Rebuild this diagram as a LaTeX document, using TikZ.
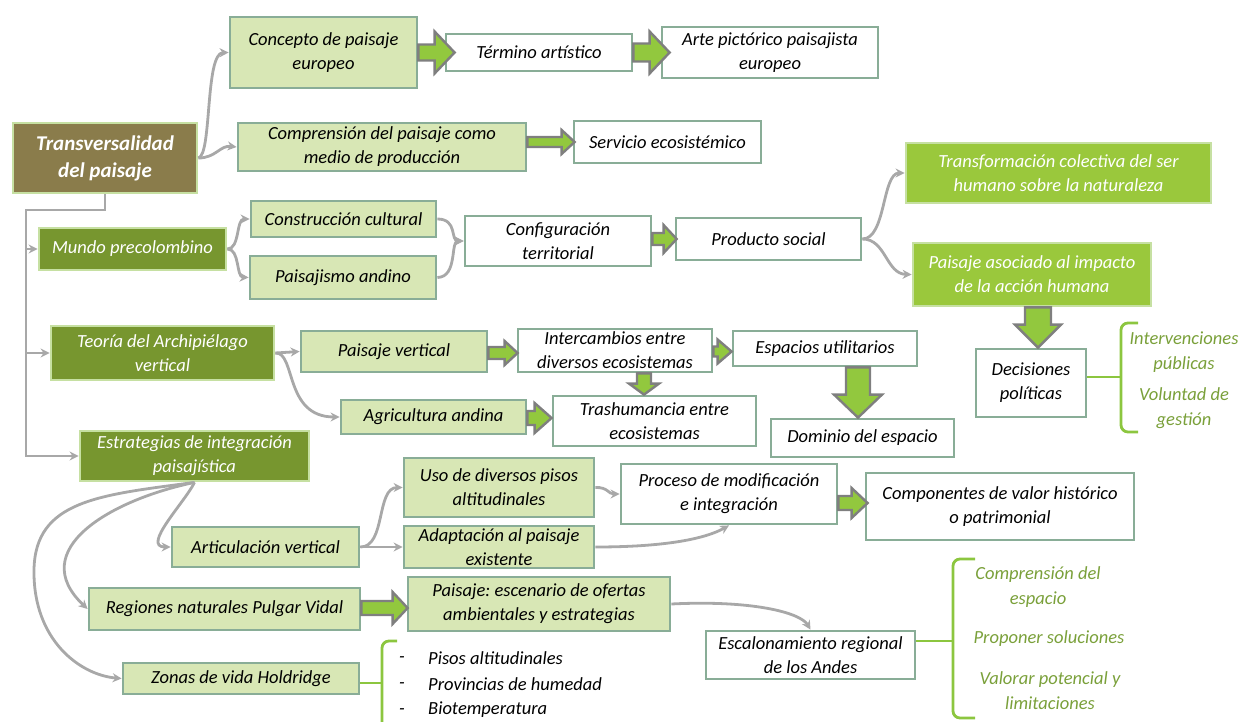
\documentclass[tikz,border=0pt]{standalone}
\usepackage{fontspec}
\setmainfont{Carlito}
\usetikzlibrary{calc,arrows.meta}
\frenchspacing

\definecolor{lgfill}{HTML}{D8E7B5}
\definecolor{boxline}{HTML}{89AD97}
\definecolor{dkgreen}{HTML}{77962F}
\definecolor{olive}{HTML}{8A7C4B}
\definecolor{paleline}{HTML}{C6E0A2}
\definecolor{brightgreen}{HTML}{9AC83C}
\definecolor{conngray}{HTML}{A8A8A8}
\definecolor{arrowgreen}{HTML}{92C83E}
\definecolor{arrowline}{HTML}{7F7F7F}
\definecolor{bracegreen}{HTML}{8CC63F}
\definecolor{notegreen}{HTML}{7AA03A}

\tikzset{
  boxbase/.style={draw, line width=2.8pt, inner sep=0pt, align=center,
    font=\fontsize{18.5}{24}\selectfont\itshape, text=black},
  sz/.style 2 args={minimum width=#1pt, minimum height=#2pt},
  pale/.style={boxbase, fill=lgfill, draw=boxline},
  plain/.style={boxbase, fill=white, draw=boxline},
  dark/.style={boxbase, fill=dkgreen, draw=paleline, text=white},
  bright/.style={boxbase, fill=brightgreen, draw=paleline, text=white},
  root/.style={boxbase, fill=olive, draw=paleline, text=white,
    font=\fontsize{21}{27}\selectfont\bfseries\itshape},
  conn/.style={draw=conngray, line width=2.8pt, -{Stealth[length=9pt,width=9pt]}},
  blockarrow/.style={fill=arrowgreen, draw=arrowline, line width=2.4pt, line join=miter},
  brace/.style={draw=bracegreen, line width=2.8pt, rounded corners=7pt},
  note/.style={font=\fontsize{18.5}{25}\selectfont\itshape, text=notegreen, align=center, inner sep=0pt},
  listitem/.style={font=\fontsize{18.5}{25}\selectfont\itshape, text=black, anchor=west, inner sep=0pt},
}

% wide arrow pointing right: start, end, shaft half-height, head half-height, head length
\newcommand\blockright[5]{%
  \path[blockarrow] let \p1=(#1), \p2=(#2) in
    (\x1,{\y1+#3}) -- ({\x2-#5},{\y1+#3}) -- ({\x2-#5},{\y1+#4}) -- (\x2,\y1)
    -- ({\x2-#5},{\y1-#4}) -- ({\x2-#5},{\y1-#3}) -- (\x1,{\y1-#3}) -- cycle;}
% wide arrow pointing down: start, end, shaft half-width, head half-width, head length
\newcommand\blockdown[5]{%
  \path[blockarrow] let \p1=(#1), \p2=(#2) in
    ({\x1+#3},\y1) -- ({\x1+#3},{\y2+#5}) -- ({\x1+#4},{\y2+#5}) -- (\x1,\y2)
    -- ({\x1-#4},{\y2+#5}) -- ({\x1-#3},{\y2+#5}) -- ({\x1-#3},\y1) -- cycle;}

\begin{document}
\begin{tikzpicture}[x=1pt, y=-1pt]
\useasboundingbox (0,0) rectangle (1241,722);

% ---- boxes ----
\node[root, sz={184}{70}] (trans) at (105,158) {Transversalidad\\del paisaje};
\node[pale, sz={187}{71}] (concepto) at (323.5,52.5) {Concepto de paisaje\\europeo};
\node[plain, sz={186}{37}] (termino) at (539,52.5) {Término artístico};
\node[plain, sz={216}{51}] (arte) at (770,52.5) {Arte pictórico paisajista\\europeo};
\node[pale, sz={288}{48}] (compr) at (382,147) {Comprensión del paisaje como\\medio de producción};
\node[plain, sz={187}{42}] (servicio) at (667.5,142) {Servicio ecosistémico};

\node[dark, sz={187}{42}] (mundo) at (132.5,249) {Mundo precolombino};
\node[pale, sz={185}{36}] (constr) at (343.5,219) {Construcción cultural};
\node[pale, sz={186}{43}] (paisaj) at (343,277.5) {Paisajismo andino};
\node[plain, sz={186}{50}] (config) at (558,241) {Configuración\\territorial};
\node[plain, sz={185}{42}] (producto) at (768.5,239) {Producto social};
\node[bright, sz={305}{60}] (transf) at (1058.5,173) {Transformación colectiva del ser\\humano sobre la naturaleza};
\node[bright, sz={238}{63}] (pasoc) at (1032,274.5) {Paisaje asociado al impacto\\de la acción humana};
\node[plain, sz={110}{68}] (decis) at (1031,383) {Decisiones\\políticas};

\node[dark, sz={223}{54}] (teoria) at (162.5,353) {Teoría del Archipiélago\\vertical};
\node[pale, sz={186}{41}] (pvert) at (394,351.5) {Paisaje vertical};
\node[plain, sz={194}{43}] (interc) at (615,350.5) {Intercambios entre\\diversos ecosistemas};
\node[plain, sz={184}{35}] (espac) at (825,348.5) {Espacios utilitarios};
\node[pale, sz={185}{34}] (agric) at (433.5,417) {Agricultura andina};
\node[plain, sz={203}{50}] (trash) at (654.5,421) {Trashumancia entre\\ecosistemas};
\node[plain, sz={183}{38}] (dominio) at (862.5,438) {Dominio del espacio};

\node[dark, sz={229}{50}] (estrat) at (194.5,456) {Estrategias de integración\\paisajística};
\node[pale, sz={187}{40}] (artic) at (265.5,547) {Articulación vertical};
\node[pale, sz={190}{59}] (uso) at (499,487.5) {Uso de diversos pisos\\altitudinales};
\node[pale, sz={190}{42}] (adapt) at (499,547) {Adaptación al paisaje\\existente};
\node[plain, sz={216}{60}] (proceso) at (729,494) {Proceso de modificación\\e integración};
\node[plain, sz={268}{67}] (compon) at (1000,506.5) {Componentes de valor histórico\\o patrimonial};
\node[pale, sz={271}{42}] (regiones) at (224.5,609) {Regiones naturales Pulgar Vidal};
\node[pale, sz={262}{54}] (pesc) at (539,604) {Paisaje: escenario de ofertas\\ambientales y estrategias};
\node[plain, sz={209}{48}] (escal) at (810.5,655) {Escalonamiento regional\\de los Andes};
\node[pale, sz={236}{31}] (zonas) at (241,678.5) {Zonas de vida Holdridge};

% ---- grey connectors ----
\draw[conn] (trans.east) .. controls (212,155) and (205,53) .. (concepto.west);
\draw[conn] (trans.east) .. controls (216,158) and (220,145) .. (compr.west);

\coordinate (spine) at (26,210);
\draw[conn] (trans.south) |- (spine) |- (estrat.west);
\draw[conn] (spine |- mundo.west) -- (mundo.west);
\draw[conn] (spine |- teoria.west) -- (teoria.west);

\draw[conn] (mundo.east) .. controls (240,249) and (236,219) .. (constr.west);
\draw[conn] (mundo.east) .. controls (240,249) and (236,277) .. (paisaj.west);
\draw[conn] (constr.east) .. controls (458,219) and (450,241) .. (config.west);
\draw[conn] (paisaj.east) .. controls (458,277) and (450,241) .. (config.west);
\draw[conn] (producto.east) .. controls (886,239) and (882,173) .. (transf.west);
\draw[conn] (producto.east) .. controls (886,239) and (886,274) .. (pasoc.west);

\draw[conn] (teoria.east) -- (pvert.west);
\draw[conn] (teoria.east) .. controls (296,352) and (284,417) .. (agric.west);

\draw[conn] (estrat.south) .. controls (185,502) and (141,547) .. (artic.west);
\draw[conn] (estrat.south) .. controls (110,500) and (25,550) .. (regiones.west);
\draw[conn] (estrat.south) .. controls (100,495) and (35,500) .. (34,570)
  .. controls (33,640) and (80,675) .. (zonas.west);

\draw[conn] (artic.east) .. controls (386,547) and (376,487.5) .. (uso.west);
\draw[conn] (artic.east) -- (adapt.west);
\draw[conn] (uso.east) .. controls (608,487) and (608,494) .. (proceso.west);
\draw[conn] (adapt.east) .. controls (680,547) and (712,535) .. (proceso.south);
\draw[conn] (pesc.east) .. controls (750,600) and (800,612) .. (escal.north);

% ---- wide green arrows ----
\blockright{concepto.east}{[xshift=10pt]termino.west}{8pt}{21pt}{20pt}
\blockright{termino.east}{[xshift=9pt]arte.west}{9pt}{21pt}{20pt}
\blockright{compr.east |- servicio.west}{[xshift=2pt]servicio.west}{5pt}{12pt}{13pt}
\blockright{config.east |- producto.west}{[xshift=2pt]producto.west}{6pt}{14pt}{13pt}
\blockright{[yshift=-1.5pt]pvert.east}{[xshift=1pt]interc.west}{6pt}{12pt}{13pt}
\blockright{[yshift=-1pt]interc.east}{espac.west}{5pt}{12pt}{14pt}
\blockright{[yshift=-1pt]agric.east}{trash.west}{7pt}{15pt}{17pt}
\blockright{[yshift=-9pt]proceso.east}{[xshift=3pt]compon.west}{7pt}{15pt}{16pt}
\blockright{[yshift=1pt]regiones.east}{[xshift=1pt]pesc.west}{7pt}{16pt}{15pt}
\blockdown{[xshift=29pt]interc.south}{trash.north}{7pt}{15pt}{11pt}
\blockdown{[xshift=33pt]espac.south}{dominio.north}{12pt}{24pt}{23pt}
\blockdown{[xshift=6pt]pasoc.south}{decis.north}{13pt}{23pt}{23pt}

% ---- braces and their notes ----
\coordinate (b1) at (1121,377);
\draw[brace] (1138,323) -| (b1) |- (1138,432);
\draw[brace] ([yshift=6pt]decis.east) -- (b1);
\node[note] (n1) at (1184,352.5) {Intervenciones\\públicas};
\node[note] (n2) at (1184,408.5) {Voluntad de\\gestión};

\coordinate (b2) at (953,641);
\draw[brace] (975,559) -| (b2) |- (975,718);
\draw[brace] ([yshift=14pt]escal.east) -- (b2);
\node[note] (n3) at (1038,587.5) {Comprensión del\\espacio};
\node[note] (n4) at (1049,639) {Proponer soluciones};
\node[note] (n5) at (1050,690.5) {Valorar potencial y\\limitaciones};

\coordinate (b3) at (382,683);
\draw[brace] (397,641) -| (b3) |- (397,740);
\draw[brace] ([yshift=-4.5pt]zonas.east) -- (b3);
\node[listitem] (d1) at (399,660) {-};
\node[listitem] (d2) at (399,686) {-};
\node[listitem] (d3) at (399,712) {-};
\node[listitem] (i1) at (428,658) {Pisos altitudinales};
\node[listitem] (i2) at (428,684) {Provincias de humedad};
\node[listitem] (i3) at (428,710) {Biotemperatura};
\end{tikzpicture}
\end{document}
